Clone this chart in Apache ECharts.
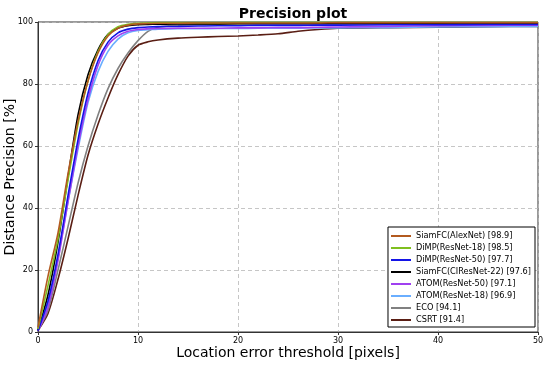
<!DOCTYPE html>
<html>
<head>
<meta charset="utf-8">
<script src="https://cdn.jsdelivr.net/npm/echarts@6/dist/echarts.min.js"></script>
<style>html,body{margin:0;padding:0;background:#fff}#c{width:550px;height:373px}</style>
</head>
<body>
<div id="c"></div>
<script>
var thresholds = [0,1,2,3,4,5,6,7,8,9,10,11,12,14,16,18,20,22,24,26,28,30,35,40,45,50];
var xTicks = [0,10,20,30,40,50];
var yTicks = [0,20,40,60,80,100];
var names = ['SiamFC(AlexNet) [98.9]','DiMP(ResNet-18) [98.5]','DiMP(ResNet-50) [97.7]','SiamFC(CIResNet-22) [97.6]','ATOM(ResNet-50) [97.1]','ATOM(ResNet-18) [96.9]','ECO [94.1]','CSRT [91.4]'];
var siamfcAlex = [1.5,18,32,51,68,81,90,95.5,98,99,99.4,99.5,99.6,99.6,99.7,99.7,99.7,99.7,99.7,99.7,99.7,99.8,99.8,99.8,99.8,99.8];
var dimp18 = [1,15,30,49,67,81,90.5,96,98.5,99.3,99.6,99.7,99.8,99.8,99.8,99.8,99.9,99.9,99.9,99.9,99.9,99.9,99.9,99.9,99.9,99.9];
var dimp50 = [0.5,10,25,44,62,77,87.5,93.5,96.5,97.7,98.2,98.4,98.5,98.6,98.7,98.8,98.8,98.9,98.9,98.9,99,99,99.1,99.1,99.2,99.2];
var siamfcCIR = [0.5,12,29,50,70,83,91,96,98,98.8,99.1,99.2,99.3,99.4,99.4,99.4,99.5,99.5,99.5,99.5,99.5,99.5,99.6,99.6,99.6,99.6];
var atom50 = [0.3,8,23,42,60,75,86,92.5,95.5,97,97.6,97.8,97.9,98,98,98,98.1,98.1,98.2,98.2,98.3,98.4,98.6,98.8,98.9,99];
var atom18 = [0.5,9,24,42,59,74,84,90.5,94.5,96.5,97.3,97.5,97.7,97.8,97.8,97.9,97.9,98,98,98,98.1,98.1,98.2,98.4,98.5,98.6];
var eco = [0.5,7,20,34,48,60,70,78.5,85,90,94,97,98.3,99,99.1,99.2,99.2,99.2,99.2,99.3,99.3,99.3,99.3,99.3,99.3,99.3];
var csrt = [0.5,6,17,30,44,57,67,75.5,83,89,92.5,93.6,94.2,94.8,95.1,95.3,95.5,95.8,96.2,97,97.6,98,98.2,98.3,98.5,98.6];
var colors = ['#b35a1f','#7fbf1f','#1414e6','#000000','#a040f0','#6aaeff','#808080','#5a1e14'];
var allValues = [siamfcAlex, dimp18, dimp50, siamfcCIR, atom50, atom18, eco, csrt];

var chart = echarts.init(document.getElementById('c'), null, {renderer:'canvas'});
var series = allValues.map(function(vals, i){
  return {
    name: names[i], type: 'line', showSymbol: false, symbol: 'none', smooth: 0.25,
    data: thresholds.map(function(t, j){ return [t, vals[j]]; }),
    lineStyle: {color: colors[i], width: 1.6}, itemStyle: {color: colors[i]},
    z: 10 - i
  };
});
chart.setOption({
  animation: false,
  title: {text: 'Precision plot', left: 288, top: 2, textAlign: 'center',
    textStyle: {fontFamily: 'DejaVu Sans', fontWeight: 'bold', fontSize: 14, color: '#000'}},
  grid: {left: 38, right: 12, top: 22, bottom: 41, containLabel: false, outerBoundsMode: 'none',
    show: true, borderColor: '#333', borderWidth: 1, backgroundColor: '#fff'},
  legend: {
    orient: 'vertical', right: 15, bottom: 46, data: names,
    backgroundColor: '#fff', borderColor: '#000', borderWidth: 1, borderRadius: 0,
    padding: [4, 4, 2, 3], itemGap: 2, itemWidth: 20, itemHeight: 2, icon: 'rect',
    textStyle: {fontFamily: 'DejaVu Sans', fontSize: 8.2, lineHeight: 10, color: '#000', padding: [0,0,0,0]}
  },
  xAxis: {
    type: 'value', min: 0, max: 50, interval: 10,
    name: 'Location error threshold [pixels]', nameLocation: 'middle', nameGap: 14, nameMoveOverlap: false,
    nameTextStyle: {fontFamily: 'DejaVu Sans', fontSize: 14, color: '#000'},
    axisLine: {show: true, lineStyle: {color: '#333'}},
    axisTick: {show: true, length: 3, lineStyle: {color: '#333'}},
    axisLabel: {fontFamily: 'DejaVu Sans', fontSize: 8, color: '#000', margin: 5},
    splitLine: {show: true, lineStyle: {color: '#b8b8b8', type: [4, 3], width: 0.8}}
  },
  yAxis: {
    type: 'value', min: 0, max: 100, interval: 20,
    name: 'Distance Precision [%]', nameLocation: 'middle', nameGap: 21, nameMoveOverlap: false,
    nameTextStyle: {fontFamily: 'DejaVu Sans', fontSize: 14, color: '#000'},
    axisLine: {show: true, lineStyle: {color: '#333'}},
    axisTick: {show: true, length: 3, lineStyle: {color: '#333'}},
    axisLabel: {fontFamily: 'DejaVu Sans', fontSize: 8, color: '#000', margin: 5},
    splitLine: {show: true, lineStyle: {color: '#b8b8b8', type: [4, 3], width: 0.8}}
  },
  series: series
});
</script>
</body>
</html>
